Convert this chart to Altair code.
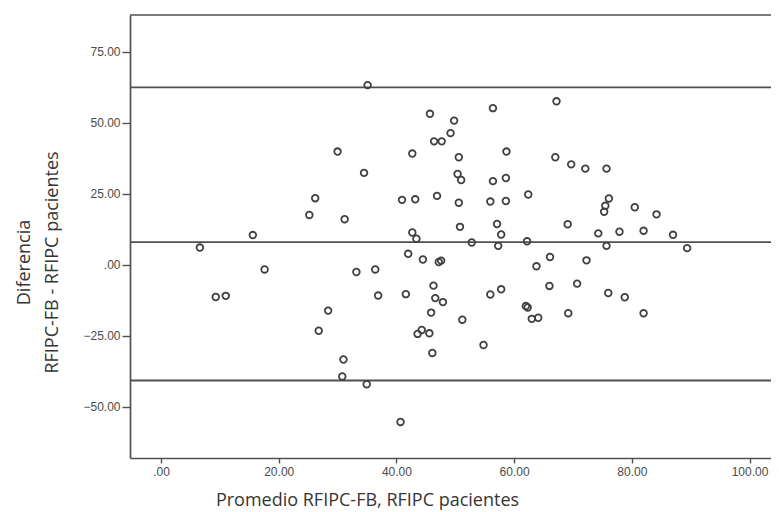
import altair as alt
import pandas as pd

# Bland-Altman data
promedio = [35.1, 30.0, 34.5, 26.2, 25.2, 31.2, 15.6, 6.6, 40.95, 67.2,
            45.7, 56.4, 49.8, 49.2, 46.4, 47.7, 42.7, 50.6, 58.7, 67.0,
            69.7, 72.1, 75.7, 50.4, 51.0, 56.4, 58.6, 43.2, 46.9, 50.6,
            55.96, 58.6, 62.4, 76.1, 75.5, 75.3, 80.5, 84.2, 42.7, 43.4,
            50.8, 57.1, 57.8, 69.1, 74.3, 77.9, 82.0, 87.0, 52.8, 57.3,
            62.2, 75.7, 89.4, 42.0, 44.5, 47.2, 47.6, 66.1, 72.3, 63.8,
            36.9, 41.6, 46.3, 46.6, 47.9, 55.96, 57.8, 66.0, 70.7, 76.0,
            78.8, 45.9, 51.2, 62.0, 62.3, 63.0, 64.1, 69.2, 82.0, 43.6,
            44.3, 45.6, 54.8, 46.1, 40.7, 17.6, 9.3, 11.0, 33.2, 36.4,
            28.4, 26.8, 31.0, 30.8, 34.95]
diferencia = [63.3, 39.9, 32.4, 23.5, 17.6, 16.1, 10.5, 6.1, 22.9, 57.6,
              53.2, 55.2, 50.8, 46.4, 43.5, 43.5, 39.2, 37.9, 39.9, 37.9,
              35.4, 33.9, 33.9, 32.0, 29.9, 29.5, 30.6, 23.1, 24.3, 21.9,
              22.3, 22.5, 24.8, 23.4, 20.8, 18.7, 20.3, 17.8, 11.4, 9.2,
              13.4, 14.4, 10.7, 14.3, 11.1, 11.7, 12.0, 10.6, 7.9, 6.7,
              8.3, 6.7, 5.9, 3.9, 1.9, 1.0, 1.5, 2.8, 1.6, -0.5,
              -10.8, -10.3, -7.3, -11.7, -13.1, -10.4, -8.6, -7.4, -6.6, -9.9,
              -11.4, -16.8, -19.3, -14.5, -15.0, -19.0, -18.6, -17.0, -17.0, -24.3,
              -22.9, -24.1, -28.2, -31.0, -55.3, -1.6, -11.3, -10.9, -2.5, -1.6,
              -16.1, -23.2, -33.3, -39.3, -42.0]

# mean difference and limits of agreement
ref_lines = [62.5, 8.0, -40.7]

x_ticks = [0, 20, 40, 60, 80, 100]
y_ticks = [-50, -25, 0, 25, 50, 75]
x_domain = [-5.27, 103.65]
y_domain = [-68, 88]

df = pd.DataFrame({"promedio": promedio, "diferencia": diferencia})
lines_df = pd.DataFrame({"v": ref_lines})
top_df = pd.DataFrame({"v": [y_domain[1]]})

label_expr = "datum.value == 0 ? '.00' : format(datum.value, '.2f')"

x_enc = alt.X(
    "promedio:Q",
    scale=alt.Scale(domain=x_domain, nice=False, zero=False),
    axis=alt.Axis(
        values=x_ticks, labelExpr=label_expr, grid=False,
        title="Promedio RFIPC-FB, RFIPC pacientes",
        titleFont="Open Sans", titleFontSize=18, titleFontWeight="normal",
        titleColor="#353535", titleX=237, titleY=47, titleAlign="center",
        titleBaseline="alphabetic",
        labelFont="Liberation Sans", labelFontSize=12, labelColor="#4a4a4a",
        labelBaseline="top", labelPadding=3,
        tickSize=5, tickColor="#505050", tickWidth=1.4,
        domainColor="#505050", domainWidth=1.7,
    ),
)
y_enc = alt.Y(
    "diferencia:Q",
    scale=alt.Scale(domain=y_domain, nice=False, zero=False),
    axis=alt.Axis(
        values=y_ticks, labelExpr=label_expr, grid=False,
        title=["Diferencia", "RFIPC-FB - RFIPC pacientes"],
        titleFont="Open Sans", titleFontSize=18, titleFontWeight="normal",
        titleColor="#353535", titleX=-101, titleY=247, titleAlign="center",
        titleBaseline="alphabetic", titleAngle=270, titleLineHeight=28,
        labelFont="Liberation Sans", labelFontSize=12, labelColor="#4a4a4a",
        labelPadding=2,
        tickSize=8, tickColor="#505050", tickWidth=1.4,
        domainColor="#505050", domainWidth=1.7,
    ),
)

points = alt.Chart(df).mark_point(
    shape="circle", filled=False, size=44, strokeWidth=1.8, color="#404040", opacity=1
).encode(x=x_enc, y=y_enc)

rules = alt.Chart(lines_df).mark_rule(color="#505050", strokeWidth=1.8).encode(
    y=alt.Y("v:Q", scale=alt.Scale(domain=y_domain, nice=False, zero=False))
)

top_frame = alt.Chart(top_df).mark_rule(color="#505050", strokeWidth=1.7).encode(
    y=alt.Y("v:Q", scale=alt.Scale(domain=y_domain, nice=False, zero=False))
)

chart = (
    alt.layer(top_frame, rules, points)
    .properties(
        width=641, height=443,
        autosize=alt.AutoSizeParams(type="none"),
        padding={"left": 122, "top": 7, "right": 0, "bottom": 54},
        background="white",
    )
    .configure_view(stroke=None)
)

chart.save("out.html", embed_options={"renderer": "svg", "actions": False})
